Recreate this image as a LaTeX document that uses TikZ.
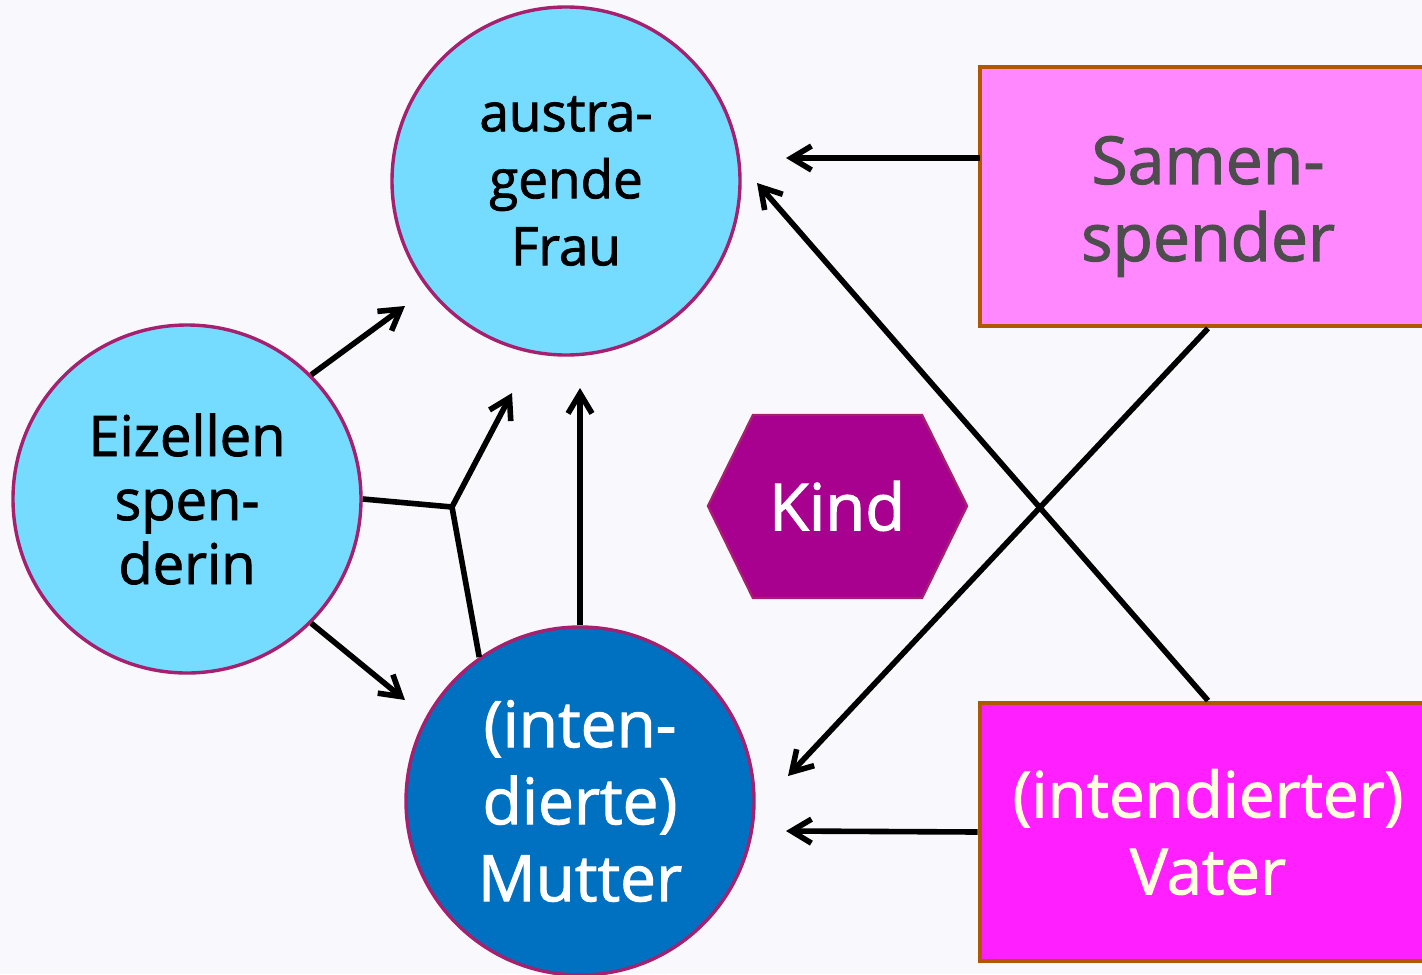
\documentclass[tikz,border=0pt]{standalone}
\usepackage{fontspec}
\setmainfont{Open Sans}[FakeBold=1.6]
\usetikzlibrary{arrows.meta}
\definecolor{bg}{HTML}{F9F8FD}
\definecolor{lightcyan}{HTML}{75DBFF}
\definecolor{darkblue}{HTML}{0070C0}
\definecolor{rimpurple}{HTML}{A5206E}
\definecolor{kindfill}{HTML}{A8008F}
\definecolor{samfill}{HTML}{FF88FF}
\definecolor{vatfill}{HTML}{FF1FFF}
\definecolor{boxrim}{HTML}{B05800}
\definecolor{graytext}{HTML}{4D4D4D}
\definecolor{cream}{HTML}{FFFFE0}
\begin{document}
\begin{tikzpicture}[x=0.5pt,y=-0.5pt,
  person/.style={circle, draw=rimpurple, line width=1.7pt, minimum size=174pt, inner sep=0pt, align=center},
  donorbox/.style={rectangle, draw=boxrim, line width=2.4pt, minimum width=228pt, minimum height=129.5pt, inner sep=0pt, align=center},
  label/.style={align=center, inner sep=0pt},
  arr/.style={line width=2.8pt, -{Straight Barb[length=10pt,width=12pt]}},
  link/.style={line width=2.8pt}
]
\fill[bg] (0,0) rectangle (1422,974);
\useasboundingbox (0,0) rectangle (1422,974);

% nodes
\node[person, fill=lightcyan, font=\fontsize{26.5pt}{33.5pt}\selectfont] (frau) at (566,181) {austra-\\gende\\Frau};
\node[person, fill=lightcyan, font=\fontsize{28pt}{32pt}\selectfont] (eiz) at (187,499) {Eizellen\\spen-\\derin};
\node[person, fill=darkblue, text=white, font=\fontsize{32pt}{38.5pt}\selectfont] (mut) at (580,801) {(inten-\\dierte)\\Mutter};
\node[donorbox, fill=samfill] (sam) at (1208,196.5) {};
\node[label, text=graytext, font=\fontsize{33pt}{38.5pt}\selectfont, yshift=-5pt] (samtext) at (sam.center) {Samen-\\spender};
\node[donorbox, fill=vatfill, text=cream, minimum height=129pt, font=\fontsize{31.8pt}{38.5pt}\selectfont] (vat) at (1208,832) {(intendierter)\\Vater};
\fill[kindfill, draw=rimpurple, line width=1.2pt] (708,506) -- (753,415) -- (922,415) -- (967,506) -- (922,598) -- (753,598) -- cycle;
\node[text=white, font=\fontsize{32.5pt}{38.5pt}\selectfont] (kind) at (837,506) {Kind};

% free ends
\coordinate (t1) at (786,158);
\coordinate (t2) at (786,831);
\coordinate (t3) at (788,776);
\coordinate (t4) at (757,183);
\coordinate (t5) at (405,306);
\coordinate (t6) at (405,700);
\coordinate (t7) at (512,393);
\coordinate (t8) at (580,388);
\coordinate (j) at (452,507);
\coordinate (s1) at (980,158);

% connectors
\draw[arr] (s1) -- (t1);
\draw[arr] (vat.west) -- (t2);
\draw[arr] (sam.south) -- (t3);
\draw[arr] (vat.north) -- (t4);
\draw[arr] (eiz.45) -- (t5);
\draw[arr] (eiz.-45) -- (t6);
\draw[link] (eiz.east) -- (j) -- (mut.125);
\draw[arr] (j) -- (t7);
\draw[arr] (mut.north) -- (t8);
\end{tikzpicture}
\end{document}
